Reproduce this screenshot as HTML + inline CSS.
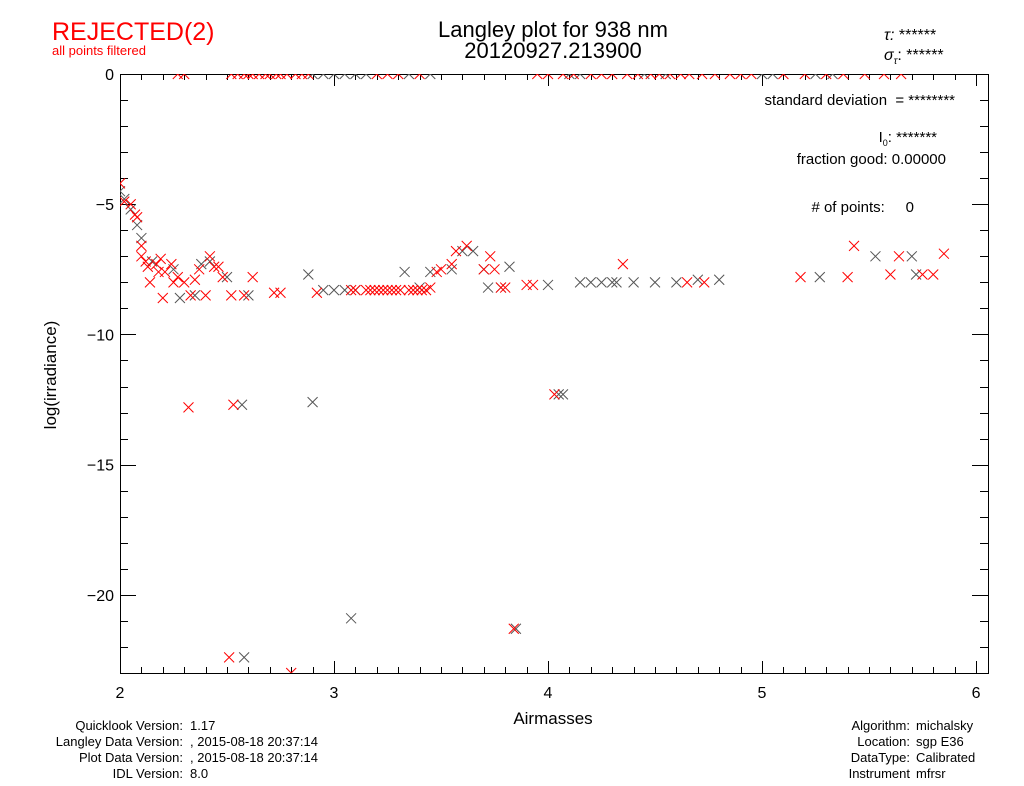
<!DOCTYPE html>
<html><head><meta charset="utf-8"><style>
body{margin:0;background:#fff;}
svg{display:block;font-family:"Liberation Sans",sans-serif;}
text{white-space:pre;}
</style></head><body>
<svg width="1024" height="786" viewBox="0 0 1024 786" id="chart">
<defs><clipPath id="pc"><rect x="120" y="74" width="868" height="599"/></clipPath></defs>
<text x="52" y="40" font-size="25" fill="#f00" font-weight="300">REJECTED(2)</text>
<text x="52" y="55" font-size="13" fill="#f00">all points filtered</text>
<text x="553" y="37" font-size="22" text-anchor="middle">Langley plot for 938 nm</text>
<text x="553" y="58" font-size="22" text-anchor="middle">20120927.213900</text>
<text x="884" y="40" font-size="16" font-style="italic">τ: <tspan font-style="normal">******</tspan></text>
<text x="884" y="60" font-size="16" font-style="italic">σ<tspan font-size="10" dy="4">τ</tspan><tspan dy="-4" font-style="normal">: ******</tspan></text>
<g font-size="15">
<text x="955" y="105" text-anchor="end">standard deviation  = ********</text>
<text x="937" y="142" text-anchor="end">I<tspan font-size="9" dy="4">0</tspan><tspan dy="-4">: *******</tspan></text>
<text x="946" y="164" text-anchor="end">fraction good: 0.00000</text>
<text x="914" y="212" text-anchor="end"># of points:     0</text>
</g>
<g id="axes"></g>
<g id="marks" clip-path="url(#pc)"></g>
<text x="553" y="724" font-size="17" text-anchor="middle">Airmasses</text>
<text transform="translate(56,375) rotate(-90)" font-size="17" text-anchor="middle">log(irradiance)</text>
<g font-size="13">
<text x="183" y="730" text-anchor="end">Quicklook Version:</text><text x="190" y="730">1.17</text>
<text x="183" y="746" text-anchor="end">Langley Data Version:</text><text x="190" y="746">, 2015-08-18 20:37:14</text>
<text x="183" y="762" text-anchor="end">Plot Data Version:</text><text x="190" y="762">, 2015-08-18 20:37:14</text>
<text x="183" y="778" text-anchor="end">IDL Version:</text><text x="190" y="778">8.0</text>
</g>
<g font-size="13">
<text x="910" y="730" text-anchor="end">Algorithm:</text><text x="916" y="730">michalsky</text>
<text x="910" y="746" text-anchor="end">Location:</text><text x="916" y="746">sgp E36</text>
<text x="910" y="762" text-anchor="end">DataType:</text><text x="916" y="762">Calibrated</text>
<text x="910" y="778" text-anchor="end">Instrument</text><text x="916" y="778">mfrsr</text>
</g>
</svg>
<script>
const xTicks=[2,3,4,5,6];
const yTicks=[0,-5,-10,-15,-20];
const yTickLabels=["0","−5","−10","−15","−20"];
const grayX=[2.0,2.02,2.05,2.08,2.1,2.15,2.25,2.28,2.35,2.38,2.42,2.5,2.57,2.58,2.6,2.88,2.9,2.95,3.0,3.05,3.08,3.1,3.33,3.4,3.45,3.55,3.6,3.65,3.7,3.72,3.78,3.82,3.85,4.0,4.05,4.07,4.15,4.2,4.25,4.3,4.32,4.4,4.5,4.6,4.7,4.8,5.27,5.53,5.7,5.72];
const grayY=[-4.5,-4.8,-5.2,-5.8,-6.3,-7.2,-7.5,-8.6,-8.5,-7.3,-7.2,-7.8,-12.7,-22.4,-8.5,-7.7,-12.6,-8.3,-8.3,-8.3,-20.9,-8.3,-7.6,-8.2,-7.6,-7.5,-6.8,-6.8,-7.5,-8.2,-8.2,-7.4,-21.3,-8.1,-12.3,-12.3,-8.0,-8.0,-8.0,-8.0,-8.0,-8.0,-8.0,-8.0,-7.9,-7.9,-7.8,-7.0,-7.0,-7.7];
const redX=[2.0,2.02,2.05,2.07,2.08,2.1,2.1,2.12,2.13,2.14,2.17,2.18,2.19,2.2,2.21,2.24,2.25,2.27,2.3,2.32,2.33,2.35,2.37,2.4,2.42,2.44,2.46,2.48,2.51,2.52,2.53,2.58,2.62,2.72,2.75,2.8,2.92,3.08,3.1,3.15,3.17,3.19,3.21,3.23,3.25,3.27,3.29,3.31,3.35,3.37,3.39,3.41,3.43,3.45,3.48,3.5,3.55,3.57,3.62,3.7,3.73,3.75,3.78,3.8,3.84,3.9,3.93,4.03,4.35,4.65,4.73,5.18,5.4,5.43,5.6,5.64,5.75,5.8,5.85];
const redY=[-4.2,-4.9,-5.0,-5.4,-5.5,-6.6,-7.0,-7.2,-7.4,-8.0,-7.3,-7.6,-7.1,-8.6,-7.6,-7.3,-8.0,-7.8,-8.0,-12.8,-8.5,-7.9,-7.5,-8.5,-7.0,-7.4,-7.4,-7.8,-22.4,-8.5,-12.7,-8.5,-7.8,-8.4,-8.4,-23.0,-8.4,-8.3,-8.3,-8.3,-8.3,-8.3,-8.3,-8.3,-8.3,-8.3,-8.3,-8.3,-8.3,-8.3,-8.3,-8.3,-8.3,-8.2,-7.6,-7.5,-7.3,-6.8,-6.6,-7.5,-7.0,-7.5,-8.2,-8.2,-21.3,-8.1,-8.1,-12.3,-7.3,-8.0,-8.0,-7.8,-7.8,-6.6,-7.7,-7.0,-7.7,-7.7,-6.9];
const redTopX=[2.27,2.3,2.52,2.55,2.58,2.6,2.62,2.65,2.68,2.7,2.73,2.75,2.78,2.82,2.85,2.88,3.2,3.25,3.3,3.4,3.95,4.0,4.07,4.12,4.2,4.25,4.3,4.37,4.42,4.48,4.52,4.57,4.62,4.66,4.72,4.78,4.85,4.9,4.95,5.1,5.2,5.3,5.38,5.48,5.57,5.65];
const grayTopX=[2.9,2.95,3.0,3.05,3.1,3.15,3.35,3.45,4.1,4.15,4.45,4.55,5.0,5.05,5.25,5.33];
const X0=120,X1=988,Y0=74,Y1=673,xmin=2,xmax=6.056,ymin=-23,ymax=0;
const sx=v=>X0+(v-xmin)/(xmax-xmin)*(X1-X0);
const sy=v=>Y0+(ymax-v)/(ymax-ymin)*(Y1-Y0);
const NS='http://www.w3.org/2000/svg';
const ax=document.getElementById('axes'),mk=document.getElementById('marks');
function line(p,x1,y1,x2,y2,c){const l=document.createElementNS(NS,'line');l.setAttribute('x1',x1);l.setAttribute('y1',y1);l.setAttribute('x2',x2);l.setAttribute('y2',y2);l.setAttribute('stroke',c||'#000');l.setAttribute('stroke-width',1);p.appendChild(l);return l;}
const fr=document.createElementNS(NS,'rect');


fr.setAttribute('x',X0+0.5);fr.setAttribute('y',Y0+0.5);fr.setAttribute('width',X1-X0);fr.setAttribute('height',Y1-Y0);fr.setAttribute('fill','none');fr.setAttribute('stroke','#000');ax.appendChild(fr);
for(let v=2;v<=6.0001;v+=0.1){const x=Math.round(sx(v))+0.5;const major=Math.abs(v-Math.round(v))<1e-6;const L=major?12:6;line(ax,x,Y1,x,Y1-L);line(ax,x,Y0,x,Y0+L);}
for(let v=0;v>=-23;v--){const y=Math.round(sy(v))+0.5;const L=(v%5===0)?16:8;line(ax,X0,y,X0+L,y);line(ax,X1,y,X1-L,y);}
xTicks.forEach((v,i)=>{const t=document.createElementNS(NS,'text');


t.setAttribute('x',sx(v));t.setAttribute('y',Y1+25);t.setAttribute('font-size','16');t.setAttribute('text-anchor','middle');t.textContent=String(v);ax.appendChild(t);});
yTicks.forEach((v,i)=>{const t=document.createElementNS(NS,'text');


t.setAttribute('x',X0-6);t.setAttribute('y',sy(v)+6);t.setAttribute('font-size','16');t.setAttribute('text-anchor','end');t.textContent=yTickLabels[i];ax.appendChild(t);});
function cross(x,y,c,name){const g=document.createElementNS(NS,'path');


const px=sx(x),py=sy(y),r=5;g.setAttribute('d',`M${px-r},${py-r}L${px+r},${py+r}M${px-r},${py+r}L${px+r},${py-r}`);g.setAttribute('stroke',c);g.setAttribute('stroke-width',1);g.setAttribute('fill','none');mk.appendChild(g);}
grayX.forEach((x,i)=>cross(x,grayY[i],'#555','gray-point'));
grayTopX.forEach(x=>cross(x,0,'#555','gray-point-top'));
redX.forEach((x,i)=>cross(x,redY[i],'#f00','red-point'));
redTopX.forEach(x=>cross(x,0,'#f00','red-point-top'));
</script>
</body></html>
